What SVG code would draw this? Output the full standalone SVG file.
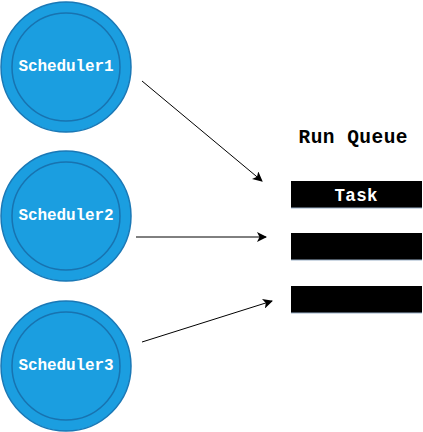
<svg xmlns="http://www.w3.org/2000/svg" width="423" height="432" viewBox="0 0 423 432">
<style>
.outer{fill:#1b9ee0;stroke:#1978b6;stroke-width:1.5}
.inner{fill:none;stroke:#1873b0;stroke-width:1.5}
.lbl{font-family:"Liberation Mono","Courier New",monospace;font-weight:bold;fill:#ffffff;text-anchor:middle;dominant-baseline:central}
.bar{fill:#000000}
.conn{stroke:#000000;stroke-width:1;fill:none;marker-end:url(#ah)}
</style>
<defs>
<marker id="ah" viewBox="0 0 10 10" refX="9" refY="5" markerWidth="10" markerHeight="10" markerUnits="userSpaceOnUse" orient="auto">
<path d="M0,0 L10,5 L0,10 L2.5,5 Z" fill="#000"/>
</marker>
</defs>
<rect width="423" height="432" fill="#ffffff"/>
<g id="scheduler1">
<circle class="outer" cx="66" cy="67" r="65"/>
<circle class="inner" cx="66" cy="67" r="54"/>
<text class="lbl" x="66" y="67" font-size="16" textLength="95">Scheduler1</text>
</g>
<g id="scheduler2">
<circle class="outer" cx="66" cy="216" r="65"/>
<circle class="inner" cx="66" cy="216" r="54"/>
<text class="lbl" x="66" y="216" font-size="16" textLength="95">Scheduler2</text>
</g>
<g id="scheduler3">
<circle class="outer" cx="66" cy="366" r="65"/>
<circle class="inner" cx="66" cy="366" r="54"/>
<text class="lbl" x="66" y="366" font-size="16" textLength="95">Scheduler3</text>
</g>
<g id="runqueue">
<text x="353" y="138" font-family="Liberation Mono,Courier New,monospace" font-weight="bold" font-size="19.5" text-anchor="middle" dominant-baseline="central" fill="#000" textLength="109">Run Queue</text>
<rect class="bar" x="291" y="181" width="131" height="27"/>
<line x1="291" y1="208" x2="422" y2="208" stroke="#9ab0c8" stroke-width="1"/>
<text class="lbl" x="356" y="196" font-size="17.5" textLength="43">Task</text>
<rect class="bar" x="291" y="233" width="131" height="27"/>
<line x1="291" y1="260" x2="422" y2="260" stroke="#9ab0c8" stroke-width="1"/>
<rect class="bar" x="291" y="286" width="131" height="27"/>
<line x1="291" y1="313" x2="422" y2="313" stroke="#9ab0c8" stroke-width="1"/>
</g>
<g id="connectors">
<line class="conn" x1="142" y1="81" x2="262" y2="181"/>
<line class="conn" x1="136" y1="237" x2="266" y2="237"/>
<line class="conn" x1="142" y1="342" x2="272" y2="301"/>
</g>
</svg>
